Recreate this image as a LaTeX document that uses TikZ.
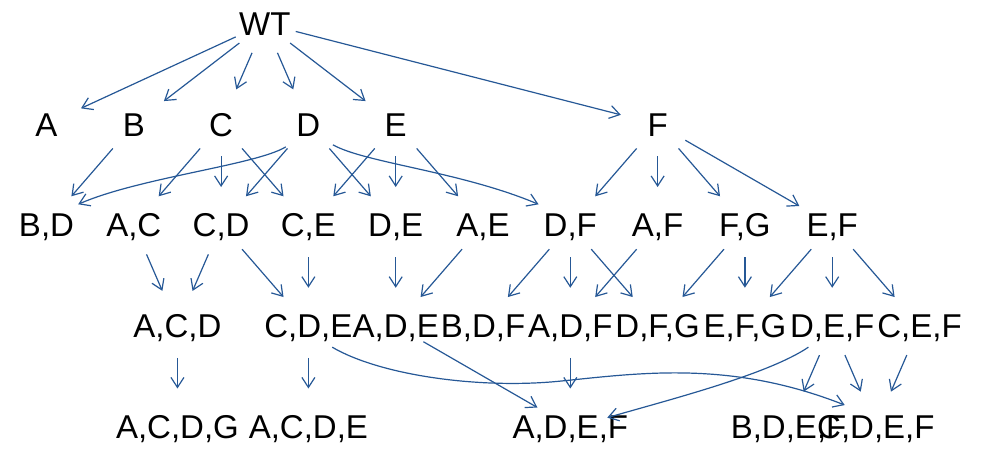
\documentclass[tikz,border=0pt]{standalone}
\usepackage{fontspec}
\setmainfont{Liberation Sans}
\usetikzlibrary{arrows.meta}

\definecolor{edgeblue}{RGB}{38,88,150}
\tikzset{
	gen/.style={circle, minimum size=32pt, inner sep=0pt, outer sep=0pt, text height=11.8pt, text depth=0pt},
	edge/.style={->, edgeblue, line width=0.6pt, shorten >=3pt}
}
\newcommand{\lbl}[1]{\makebox[0pt]{#1}}

\begin{document}
\begin{tikzpicture}[x=43.65pt, y=-50.375pt, >={Straight Barb[length=5pt, width=6.5pt]}, font=\fontsize{16.5}{18}\selectfont]
	
	\useasboundingbox (-0.5327,-0.2333) rectangle (10.7961,4.2233);
	
	% --- Wildtyp ---
	\node[gen] (wt) at (2.5,0) {\lbl{WT}};
	
	% --- Einzelmutanten ---
	\node[gen] (a) at (0,1) {\lbl{A}};
	\node[gen] (b) at (1,1) {\lbl{B}};
	\node[gen] (c) at (2,1) {\lbl{C}};
	\node[gen] (d) at (3,1) {\lbl{D}};
	\node[gen] (e) at (4,1) {\lbl{E}};
	\node[gen] (f) at (7,1) {\lbl{F}};
	
	% --- Doppelmutanten ---
	\node[gen] (bd) at (0,2) {\lbl{B,D}};
	\node[gen] (ac) at (1,2) {\lbl{A,C}};
	\node[gen] (cd) at (2,2) {\lbl{C,D}};
	\node[gen] (ce) at (3,2) {\lbl{C,E}};
	\node[gen] (de) at (4,2) {\lbl{D,E}};
	\node[gen] (ae) at (5,2) {\lbl{A,E}};
	\node[gen] (df) at (6,2) {\lbl{D,F}};
	\node[gen] (af) at (7,2) {\lbl{A,F}};
	\node[gen] (fg) at (8,2) {\lbl{F,G}};
	\node[gen] (ef) at (9,2) {\lbl{E,F}};
	
	% --- Dreifachmutanten ---
	\node[gen] (acd) at (1.5,3) {\lbl{A,C,D}};
	\node[gen] (cde) at (3,3) {\lbl{C,D,E}};
	\node[gen] (ade) at (4,3) {\lbl{A,D,E}};
	\node[gen] (bdf) at (5,3) {\lbl{B,D,F}};
	\node[gen] (adf) at (6,3) {\lbl{A,D,F}};
	\node[gen] (dfg) at (7,3) {\lbl{D,F,G}};
	\node[gen] (efg) at (8,3) {\lbl{E,F,G}};
	\node[gen] (def) at (9,3) {\lbl{D,E,F}};
	\node[gen] (cef) at (10,3) {\lbl{C,E,F}};
	
	% --- Vierfachmutanten ---
	\node[gen] (acdg) at (1.5,4) {\lbl{A,C,D,G}};
	\node[gen] (acde) at (3,4) {\lbl{A,C,D,E}};
	\node[gen] (adef) at (6,4) {\lbl{A,D,E,F}};
	\node[gen] (bdef) at (8.5,4) {\lbl{B,D,E,F}};
	\node[gen] (cdef) at (9.5,4) {\lbl{C,D,E,F}};
	
	% --- gerade Kanten ---
	\foreach \s/\t in {wt/a, wt/b, wt/c, wt/d, wt/e, wt/f,
		b/bd, c/ac, c/cd, c/ce, d/cd, d/de, e/ce, e/de, e/ae,
		f/df, f/af, f/fg, f/ef}{
		\draw[edge] (\s) -- (\t);
	}
	\foreach \s/\t in {ac/acd, cd/acd, cd/cde, ce/cde, de/ade, ae/ade,
		df/bdf, df/adf, df/dfg, af/adf, fg/dfg, fg/efg,
		ef/efg, ef/def, ef/cef}{
		\draw[edge] (\s) -- (\t);
	}
	\foreach \s/\t in {acd/acdg, cde/acde, ade/adef, adf/adef,
		def/bdef, def/cdef, cef/cdef}{
		\draw[edge] (\s) -- (\t);
	}
	
	% --- gebogene Kanten ---
	\draw[edge] (d.225) .. controls +(-0.34,0.18) and +(0.77,-0.29) .. (bd.35);
	\draw[edge] (d.-40) .. controls +(0.37,0.18) and +(-0.96,-0.35) .. (df.145);
	\draw[edge] (cde.-42) .. controls +(0.55,0.28) and +(-0.92,0.08) .. (5.88,3.55)
		.. controls +(0.92,-0.08) and +(-1.38,-0.47) .. (cdef.143);
	\draw[edge] (def.222) .. controls +(-0.46,0.27) and +(0.8,-0.2) .. (adef.13);
	
\end{tikzpicture}
\end{document}
